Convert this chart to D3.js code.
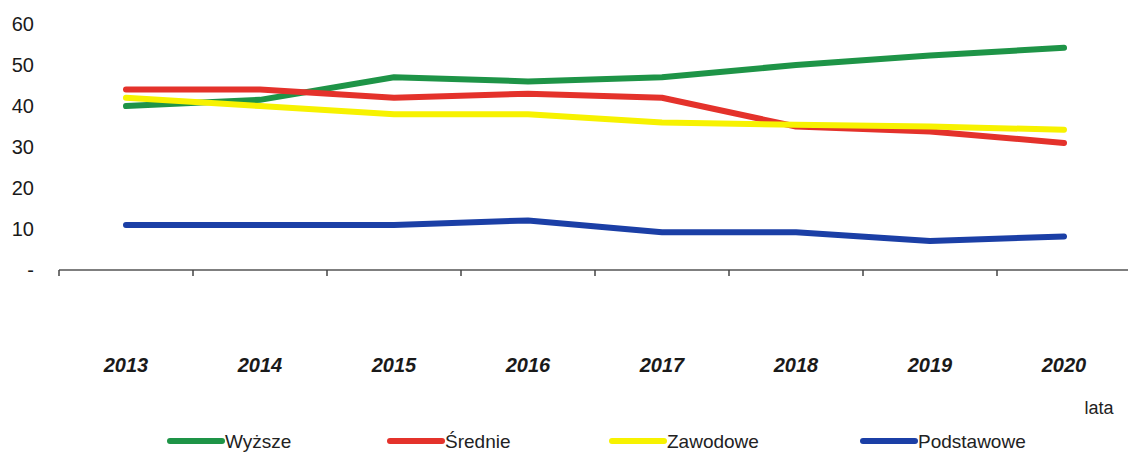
<!DOCTYPE html>
<html><head><meta charset="utf-8">
<script src="https://cdn.jsdelivr.net/npm/d3@7"></script>
<style>body{margin:0;background:#fff}svg{display:block;font-family:Arial,"Liberation Sans",sans-serif}</style>
</head><body>
<svg id="c" width="1128" height="452"></svg>
<script>
const years = ["2013","2014","2015","2016","2017","2018","2019","2020"];
const wyzsze = [40, 41.5, 47, 46, 47, 50, 52.3, 54.2];
const srednie = [44, 44, 42, 43, 42, 35, 33.8, 31];
const zawodowe = [42, 40, 38, 38, 36, 35.4, 35, 34.2];
const podstawowe = [11, 11, 11, 12.1, 9.2, 9.2, 7.1, 8.2];
const yTicks = [0, 10, 20, 30, 40, 50, 60];
const seriesNames = ["Wyższe", "Średnie", "Zawodowe", "Podstawowe"];
const colors = ["#1e9447", "#e4322b", "#f7f200", "#1b3fa6"];

const series = [wyzsze, srednie, zawodowe, podstawowe];
const svg = d3.select("#c");
const x = d3.scaleBand().domain(years).range([59, 1131]);
const y = d3.scaleLinear().domain([0, 60]).range([270, 24]);

// y labels
svg.append("g").selectAll("text").data(yTicks).join("text")
  .attr("x", 34).attr("y", d => y(d)).attr("dy", "0.35em")
  .attr("text-anchor", "end").attr("font-size", 20).attr("fill", "#1a1a1a")
  .text(d => d === 0 ? "-" : d);

// x axis
const xAxis = svg.append("g");
xAxis.append("line").attr("x1", 59).attr("x2", 1128).attr("y1", y(0)).attr("y2", y(0))
  .attr("stroke", "#555").attr("stroke-width", 1.5);
const bounds = years.map(d => x(d)).concat([x(years[years.length-1]) + x.bandwidth()]);
xAxis.selectAll("line.t").data(bounds).join("line").attr("class","t")
  .attr("x1", d => d).attr("x2", d => d).attr("y1", y(0)).attr("y2", y(0) + 6)
  .attr("stroke", "#444").attr("stroke-width", 1.5);
xAxis.selectAll("text").data(years).join("text")
  .attr("x", d => x(d) + x.bandwidth()/2).attr("y", 372)
  .attr("text-anchor", "middle").attr("font-size", 20).attr("font-weight", "bold")
  .attr("font-style", "italic").attr("fill", "#1a1a1a").text(d => d);

svg.append("text").attr("x", 1099).attr("y", 414).attr("text-anchor", "middle")
  .attr("font-size", 18).attr("fill", "#222").text("lata");

// lines
const line = d3.line().x((d, i) => x(years[i]) + x.bandwidth()/2).y(d => y(d));
svg.append("g").selectAll("path").data(series).join("path")
  .attr("d", d => line(d)).attr("fill", "none")
  .attr("stroke", (d, i) => colors[i]).attr("stroke-width", 6)
  .attr("stroke-linecap", "round").attr("stroke-linejoin", "round");

// legend
const legX = [170, 390, 612, 863];
const lg = svg.append("g").selectAll("g").data(seriesNames).join("g")
  .attr("transform", (d, i) => `translate(${legX[i]},441)`);
lg.append("line").attr("x1", 0).attr("x2", 52).attr("y1", 0).attr("y2", 0)
  .attr("stroke", (d, i) => colors[i]).attr("stroke-width", 6).attr("stroke-linecap", "round");
lg.append("text").attr("x", 55).attr("y", 0).attr("dy", "0.36em")
  .attr("font-size", 19).attr("fill", "#222").text(d => d);
</script>
</body></html>
